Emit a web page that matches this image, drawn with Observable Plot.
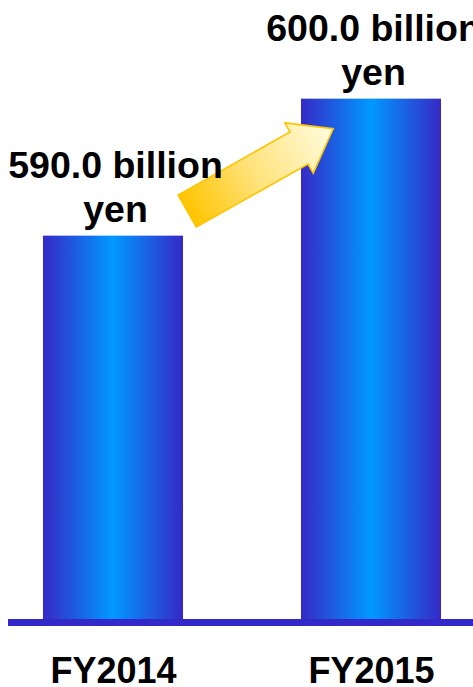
<!DOCTYPE html>
<html><head><meta charset="utf-8">
<script src="https://cdn.jsdelivr.net/npm/d3@7"></script>
<script src="https://cdn.jsdelivr.net/npm/@observablehq/plot@0.6"></script>
<style>
html,body{margin:0;padding:0;background:#fff;overflow:hidden}
svg{display:block}
</style></head><body><div id="chart"></div>
<script>
// ---- data ----
const years = ["FY2014", "FY2015"];
const values = [590.0, 600.0];
const valueLabels = ["590.0 billion\nyen", "600.0 billion\nyen"];
// arrow drawn between the two bars (value levels at its tail and tip)
const arrowFromValue = 591.8;
const arrowToValue = 597.8;

const data = years.map((year, i) => ({year, value: values[i], label: valueLabels[i]}));

const yMin = 561.8, yMax = 607.2;

function arrowMark(index, scales, vals, dimensions) {
  const x = scales.x, y = scales.y;
  const bw = typeof x.bandwidth === "function" ? x.bandwidth() : 140;
  const tx = x(years[0]) + bw * 1.03, ty = y(arrowFromValue);
  const hx = x(years[1]) + bw * 0.23, hy = y(arrowToValue);
  const dx = hx - tx, dy = hy - ty, L = Math.hypot(dx, dy);
  const ux = dx / L, uy = dy / L, px = -uy, py = ux;
  const sw = 18.4, hw = 28.9, hl = 39.2;
  const bx = hx - ux * hl, by = hy - uy * hl;
  const pts = [
    [tx + px * sw, ty + py * sw],
    [bx + px * sw, by + py * sw],
    [bx + px * hw, by + py * hw],
    [hx, hy],
    [bx - px * hw, by - py * hw],
    [bx - px * sw, by - py * sw],
    [tx - px * sw, ty - py * sw]
  ];
  const g = d3.create("svg:g");
  const defs = g.append("defs");
  const ag = defs.append("linearGradient").attr("id", "arrowGrad")
    .attr("gradientUnits", "userSpaceOnUse")
    .attr("x1", tx).attr("y1", ty).attr("x2", hx).attr("y2", hy);
  ag.append("stop").attr("offset", "0").attr("stop-color", "#ffc400");
  ag.append("stop").attr("offset", "0.45").attr("stop-color", "#ffe27a");
  ag.append("stop").attr("offset", "1").attr("stop-color", "#fffde0");
  const bg = defs.append("linearGradient").attr("id", "barGrad")
    .attr("x1", "0").attr("y1", "0").attr("x2", "1").attr("y2", "0");
  bg.append("stop").attr("offset", "0").attr("stop-color", "#3629c6");
  bg.append("stop").attr("offset", "0.5").attr("stop-color", "#0099ff");
  bg.append("stop").attr("offset", "1").attr("stop-color", "#3629c6");
  g.append("polygon")
    .attr("points", pts.map(p => p.join(",")).join(" "))
    .attr("fill", "url(#arrowGrad)")
    .attr("stroke", "#ffc400")
    .attr("stroke-width", 1.6)
    .attr("stroke-linejoin", "miter");
  return g.node();
}

const chart = Plot.plot({
  width: 473,
  height: 687,
  marginTop: 0,
  marginBottom: 65,
  marginLeft: 22,
  marginRight: 11,
  style: {
    fontFamily: "'Liberation Sans', Arial, sans-serif",
    fontSize: "36px",
    fontWeight: "bold",
    color: "black",
    background: "white",
    overflow: "visible"
  },
  x: {domain: years, paddingInner: 0.458, paddingOuter: 0.08, tickSize: 0, tickPadding: 35, label: null},
  y: {domain: [yMin, yMax], axis: null},
  marks: [
    Plot.barY(data, {x: "year", y1: yMin, y2: "value", fill: "url(#barGrad)"}),
    arrowMark,
    Plot.ruleY([yMin], {stroke: "#3329c8", strokeWidth: 7, insetLeft: -14, insetRight: -11}),
    Plot.text(data, {x: "year", y: "value", text: "label", lineAnchor: "bottom", dy: -14, dx: 2,
      fontSize: 37.5, fontWeight: "bold", lineHeight: 1.18, fill: "black"})
  ]
});
document.getElementById("chart").appendChild(chart);
</script>
</body></html>
